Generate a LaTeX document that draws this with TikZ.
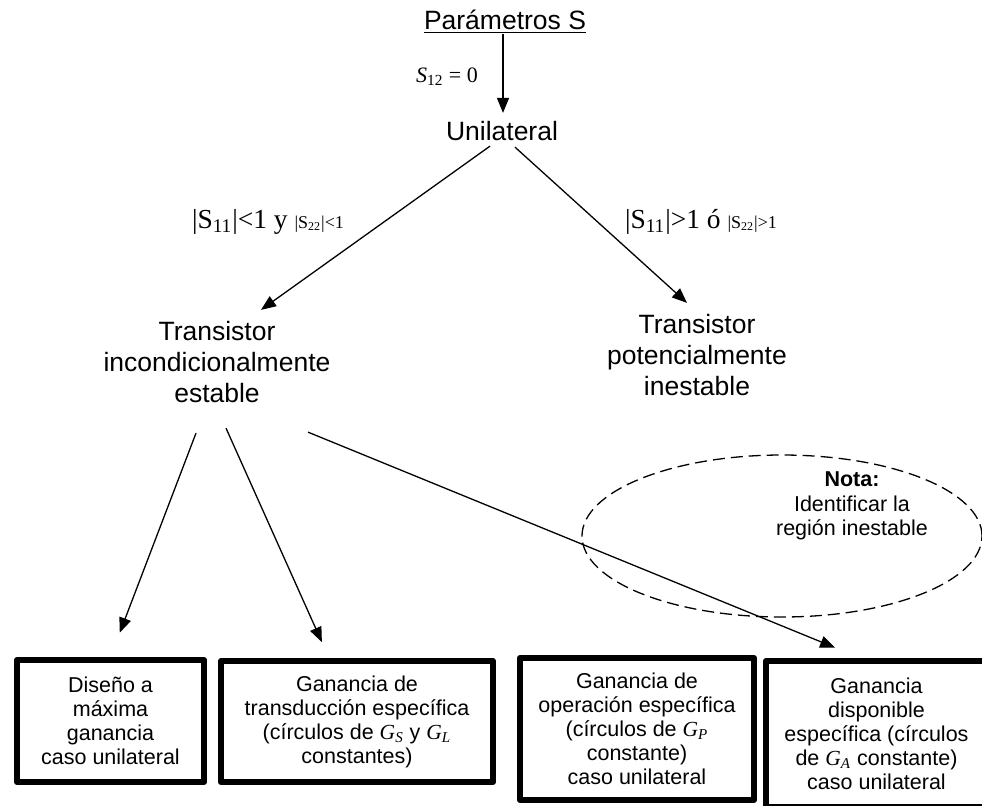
\documentclass[tikz,border=0pt]{standalone}
\usepackage{fontspec}
\setmainfont{Liberation Sans}
\newfontfamily\tms{Liberation Serif}
\usetikzlibrary{arrows.meta}
\newcommand{\gsym}[1]{{\tms\itshape G\textsubscript{#1}}}

\begin{document}
\begin{tikzpicture}[x=0.5pt, y=-0.5pt, line join=round,
    big/.style={inner sep=0pt, align=center, font=\fontsize{13.25}{15.5}\selectfont},
    small/.style={inner sep=0pt, align=center, font=\fontsize{10.75}{12.25}\selectfont},
    cond/.style={inner sep=0pt, font=\tms\fontsize{13.75}{15}\selectfont},
    gainbox/.style={draw, line width=3pt, align=center, inner sep=0pt,
      font=\fontsize{10.75}{12}\selectfont},
    arr/.style={line width=0.65pt, -{Triangle[length=7.5pt, width=6pt]}}]
  \clip (0,0) rectangle (982,805);
  % --- top levels ------------------------------------------------
  \node[big] (par) at (505,22) {\underline{Parámetros S}};
  \node[big] (uni) at (502,131) {Unilateral};
  \node[inner sep=0pt, font=\tms\fontsize{11}{13}\selectfont] (s12) at (447,77)
    {{\itshape S}\textsubscript{12} = 0};
  % --- stability -------------------------------------------------
  \node[big] (stab) at (217,362) {Transistor\\incondicionalmente\\estable};
  \node[big] (pot) at (697,355) {Transistor\\potencialmente\\inestable};
  \node[cond] (cl) at (268,222)
    {|S\textsubscript{11}|<1 y {\fontsize{9}{10}\selectfont |S\textsubscript{22}|<1}};
  \node[cond] (cr) at (701,222)
    {|S\textsubscript{11}|>1 ó {\fontsize{9}{10}\selectfont |S\textsubscript{22}|>1}};
  % --- note ------------------------------------------------------
  \draw[line width=0.65pt, dash pattern=on 6pt off 3pt]
    (782,536) ellipse [x radius=100pt, y radius=40.5pt];
  \node[small] (nota) at (852,506) {\textbf{Nota:}\\Identificar la\\región inestable};
  % --- design boxes ----------------------------------------------
  \node[gainbox, minimum width=93.5pt, minimum height=61pt] (b1) at (110.5,721)
    {Diseño a\\máxima\\ganancia\\caso unilateral};
  \node[gainbox, minimum width=136pt, minimum height=60.5pt] (b2) at (357,721.5)
    {Ganancia de\\transducción específica\\(círculos de \gsym{S} y \gsym{L}\\constantes)};
  \node[gainbox, minimum width=117pt, minimum height=71pt] (b3) at (637,729)
    {Ganancia de\\operación específica\\(círculos de \gsym{P}\\constante)\\caso unilateral};
  \node[gainbox, minimum width=110.5pt, minimum height=73pt] (b4) at (876.5,734)
    {Ganancia\\disponible\\específica (círculos\\de \gsym{A} constante)\\caso unilateral};
  % --- arrows ----------------------------------------------------
  \draw[arr, shorten >=4pt] ([xshift=-1pt]par.south) -- ([xshift=-1pt]par.south |- uni.north);
  \draw[arr] ([xshift=-6pt, yshift=-2.5pt]uni.south) -- ([xshift=22pt, yshift=5.5pt]stab.north);
  \draw[arr] ([xshift=6.5pt, yshift=-3pt]uni.south) -- ([xshift=-5pt, yshift=5.5pt]pot.north);
  \draw[arr, shorten >=13pt] ([xshift=-10.5pt, yshift=-15pt]stab.south) -- (b1.north);
  \draw[arr, shorten >=8.7pt] ([xshift=4.5pt, yshift=-12.5pt]stab.south) -- ([xshift=-14pt]b2.north);
  \draw[arr, shorten >=13.7pt] ([xshift=45.5pt, yshift=-14.5pt]stab.south) -- ([xshift=-8pt]b4.north);
\end{tikzpicture}
\end{document}
